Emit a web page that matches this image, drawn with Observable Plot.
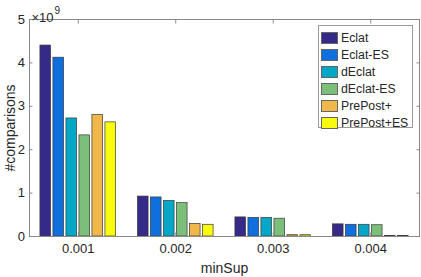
<!DOCTYPE html>
<html>
<head>
<meta charset="utf-8">
<script src="https://cdn.jsdelivr.net/npm/d3@7"></script>
<script src="https://cdn.jsdelivr.net/npm/@observablehq/plot@0.6"></script>
<style>
  html, body { margin: 0; padding: 0; background: #fff; }
  #wrap { position: relative; width: 421px; height: 277px; font-family: "Liberation Sans", Arial, sans-serif; }
  #legend { position: absolute; left: 318px; top: 25px; width: 95px; height: 103px; box-sizing: border-box;
            border: 1px solid #9a9a9a; background: #fff; padding: 3px 0 0 2px; }
  .item { display: flex; align-items: center; height: 17px; font-size: 12.3px; color: #262626; }
  .sw { width: 17px; height: 12px; box-sizing: border-box; border: 1px solid #666; margin-right: 3px; }
</style>
</head>
<body>
<div id="wrap"></div>
<script>
const groups = ["0.001", "0.002", "0.003", "0.004"];
const series = ["Eclat", "Eclat-ES", "dEclat", "dEclat-ES", "PrePost+", "PrePost+ES"];
const colors = ["#352a87", "#0f6fdc", "#06a7c6", "#7cbf7b", "#f0b74a", "#f9fb0e"];
const eclat      = [4.40e9, 0.92e9, 0.44e9, 0.28e9];
const eclatES    = [4.12e9, 0.90e9, 0.43e9, 0.27e9];
const dEclat     = [2.72e9, 0.82e9, 0.43e9, 0.27e9];
const dEclatES   = [2.33e9, 0.77e9, 0.41e9, 0.26e9];
const prePost    = [2.80e9, 0.29e9, 0.03e9, 0.01e9];
const prePostES  = [2.63e9, 0.27e9, 0.03e9, 0.01e9];
const yTicks = [0, 1e9, 2e9, 3e9, 4e9, 5e9];

const values = [eclat, eclatES, dEclat, dEclatES, prePost, prePostES];
const data = [];
const step = 0.8 / series.length;
const half = step * 0.82 / 2;
values.forEach((vals, si) => vals.forEach((v, gi) => {
  const c = gi + 1 + (si - (series.length - 1) / 2) * step;
  data.push({group: groups[gi], series: series[si], value: v, x1: c - half, x2: c + half});
}));

const axisColor = "#262626";
const chart = Plot.plot({
  width: 421,
  height: 277,
  marginLeft: 29,
  marginRight: 2,
  marginTop: 19,
  marginBottom: 41,
  style: {fontFamily: "Liberation Sans, Arial, sans-serif", fontSize: "13px", color: "#262626", background: "#fff"},
  x: {type: "linear", domain: [0.5, 4.5]},
  y: {domain: [0, 5e9]},
  color: {domain: series, range: colors},
  marks: [
    Plot.rectY(data, {x1: "x1", x2: "x2", y: "value", fill: "series", stroke: "#3a3a3a", strokeWidth: 0.7}),
    Plot.frame({stroke: "#8a8a8a", strokeWidth: 1}),
    Plot.axisX({ticks: [1, 2, 3, 4], tickFormat: d => groups[d - 1], tickSize: -3.5, tickPadding: 11, stroke: "#8a8a8a",
                label: "minSup", labelAnchor: "center", labelArrow: "none", labelOffset: 36, fontSize: 13}),
    Plot.axisX({anchor: "top", ticks: [1, 2, 3, 4], tickFormat: () => "", tickSize: -3.5, stroke: "#8a8a8a", label: null}),
    Plot.axisY({ticks: yTicks, tickFormat: d => d / 1e9, tickSize: -3.5, tickPadding: 8, stroke: "#8a8a8a",
                label: "#comparisons", labelAnchor: "center", labelArrow: "none", labelOffset: 24}),
    Plot.axisY({anchor: "right", ticks: yTicks, tickFormat: () => "", tickSize: -3.5, stroke: "#8a8a8a", label: null}),
    Plot.text(["×10"], {frameAnchor: "top-left", dx: 2, dy: -7, textAnchor: "start", fontSize: 13, fill: "#262626"}),
    Plot.text(["9"], {frameAnchor: "top-left", dx: 25, dy: -13, textAnchor: "start", fontSize: 10, fill: "#262626"})
  ]
});
const wrap = document.getElementById("wrap");
wrap.appendChild(chart);

// style axis labels
chart.querySelectorAll("g[aria-label='x-axis label'] text, g[aria-label='y-axis label'] text").forEach(t => t.setAttribute("font-size", "14px"));

const legend = document.createElement("div");
legend.id = "legend";
series.forEach((s, i) => {
  const it = document.createElement("div");
  it.className = "item";
  const sw = document.createElement("div");
  sw.className = "sw";
  sw.style.background = colors[i];
  const lab = document.createElement("span");
  lab.textContent = s;
  it.appendChild(sw); it.appendChild(lab);
  legend.appendChild(it);
});
wrap.appendChild(legend);
</script>
</body>
</html>
